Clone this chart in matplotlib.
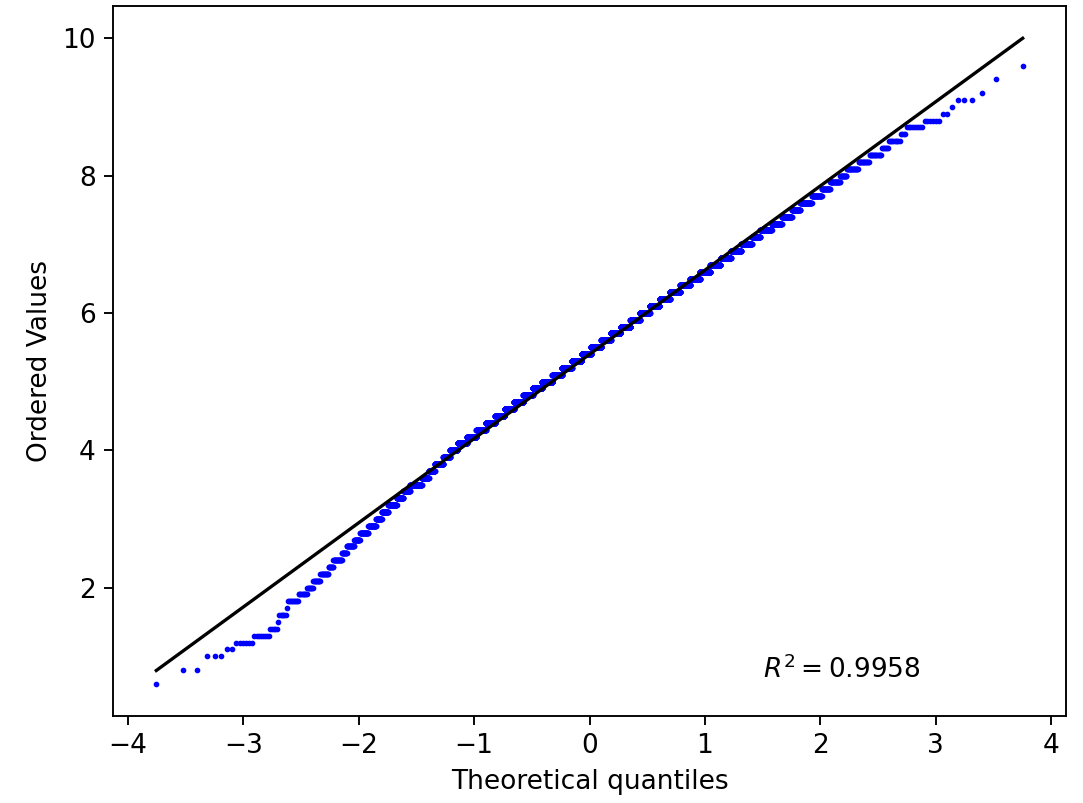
import numpy as np
import matplotlib
matplotlib.use("Agg")
import matplotlib.pyplot as plt
from statistics import NormalDist

# sample values (0.1 resolution) and how often each one occurs
values = [0.6, 0.7, 0.8, 0.9, 1.0, 1.1, 1.2, 1.3, 1.4, 1.5,
          1.6, 1.7, 1.8, 1.9, 2.0, 2.1, 2.2, 2.3, 2.4, 2.5,
          2.6, 2.7, 2.8, 2.9, 3.0, 3.1, 3.2, 3.3, 3.4, 3.5,
          3.6, 3.7, 3.8, 3.9, 4.0, 4.1, 4.2, 4.3, 4.4, 4.5,
          4.6, 4.7, 4.8, 4.9, 5.0, 5.1, 5.2, 5.3, 5.4, 5.5,
          5.6, 5.7, 5.8, 5.9, 6.0, 6.1, 6.2, 6.3, 6.4, 6.5,
          6.6, 6.7, 6.8, 6.9, 7.0, 7.1, 7.2, 7.3, 7.4, 7.5,
          7.6, 7.7, 7.8, 7.9, 8.0, 8.1, 8.2, 8.3, 8.4, 8.5,
          8.6, 8.7, 8.8, 8.9, 9.0, 9.1, 9.2, 9.3, 9.4, 9.5, 9.6]
counts = [1, 0, 2, 0, 3, 2, 6, 8, 5, 1,
          6, 1, 11, 11, 9, 12, 16, 11, 22, 14,
          24, 21, 34, 36, 30, 38, 54, 47, 53, 105,
          70, 65, 100, 87, 105, 142, 154, 167, 180, 192,
          204, 215, 225, 235, 266, 251, 267, 271, 260, 285,
          258, 265, 260, 241, 243, 233, 231, 217, 194, 180,
          172, 158, 142, 127, 117, 81, 100, 75, 64, 47,
          55, 40, 28, 29, 16, 24, 18, 16, 7, 10,
          4, 9, 6, 2, 1, 3, 1, 0, 1, 0, 1]
r2_value = 0.9958

osr = np.sort(np.repeat(values, counts))
n = len(osr)

# order statistic medians (Filliben), same as scipy.stats.probplot
m = np.empty(n)
m[-1] = 0.5 ** (1.0 / n)
m[0] = 1 - m[-1]
m[1:-1] = (np.arange(2, n) - 0.3175) / (n + 0.365)
nd = NormalDist()
osm = np.array([nd.inv_cdf(p) for p in m])

slope, intercept = np.polyfit(osm, osr, 1)

plt.rcParams['font.size'] = 11.2
plt.rcParams['xtick.major.size'] = 3.9
plt.rcParams['ytick.major.size'] = 3.9

dpi = 170
fig = plt.figure(figsize=(1083 / dpi, 803 / dpi), dpi=dpi)
ax = fig.add_axes([113 / 1083, 1 - 716 / 803, 953 / 1083, 710 / 803])

ax.plot(osm, osr, 'bo', markersize=1.4)
ax.plot(osm, slope * osm + intercept, 'k-', linewidth=1.4)

xmin, xmax = osm.min(), osm.max()
ymin, ymax = osr.min(), osr.max()
ax.text(xmin + 0.7 * (xmax - xmin), ymin + 0.01 * (ymax - ymin),
        '$R^2=%1.4f$' % r2_value)

ax.set_xlabel('Theoretical quantiles')
ax.set_ylabel('Ordered Values')

fig.savefig('out.png', dpi=dpi)
